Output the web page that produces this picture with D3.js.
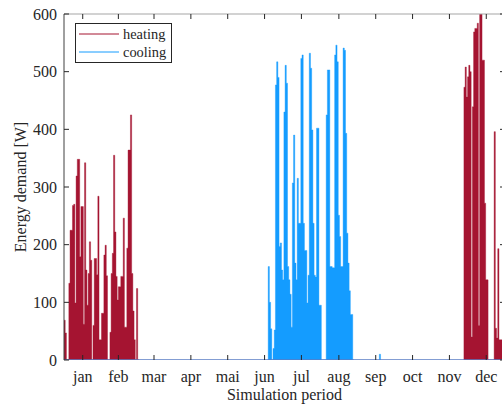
<!DOCTYPE html>
<html>
<head>
<meta charset="utf-8">
<script src="https://cdn.jsdelivr.net/npm/d3@7"></script>
<style>
  html, body { margin: 0; padding: 0; background: #fff; }
  svg { display: block; }
  text { font-family: "Liberation Serif", "Times New Roman", serif; fill: #262626; }
</style>
</head>
<body>
<svg id="chart" width="502" height="406"></svg>
<script>
// Daily peak energy demand [W], day 0 = 1 January
const heatingStartDay = 0;
const heatingWinter = [
  69, 47, 0, 0, 133, 225, 225, 268, 270, 99,
  319, 348, 348, 179, 266, 266, 62, 342, 156, 95,
  150, 205, 173, 0, 60, 176, 176, 148, 284, 35,
  35, 81, 81, 182, 199, 146, 0, 0, 48, 150,
  185, 355, 222, 145, 104, 127, 127, 145, 145, 246,
  57, 57, 194, 364, 364, 425, 150, 85, 35, 0,
  124, 0
];
const heatingLateStartDay = 331;
const heatingLate = [
  473, 508, 456, 491, 511, 500, 40, 439, 569, 575,
  575, 584, 60, 610, 610, 520, 520, 272, 139, 139,
  0, 0, 0, 0, 0, 396, 55, 38, 193, 35,
  35, 35, 35, 35
];
const coolingStartDay = 169;
const coolingSummer = [
  162, 100, 54, 0, 20, 52, 477, 517, 490, 197,
  203, 156, 139, 430, 511, 480, 162, 139, 114, 57,
  307, 390, 168, 139, 315, 237, 237, 523, 529, 237,
  190, 190, 99, 147, 532, 506, 399, 237, 147, 144,
  402, 402, 95, 95, 0, 0, 0, 0, 425, 503,
  503, 162, 162, 160, 160, 529, 546, 517, 251, 214,
  162, 162, 541, 537, 393, 220, 168, 120, 79, 79,
  0
];
const coolingBlipStartDay = 261;
const coolingBlip = [10];

const monthLabels = ["jan", "feb", "mar", "apr", "mai", "jun", "jul", "aug", "sep", "oct", "nov", "dec"];
const monthDays = [31, 28, 31, 30, 31, 30, 31, 31, 30, 31, 30, 31];
const yTicks = [0, 100, 200, 300, 400, 500, 600];

const heatingColor = "#a51431";
const coolingColor = "#149cff";

const svg = d3.select("#chart");
const plot = { left: 64, right: 505, top: 14, bottom: 360 };

const x = d3.scaleLinear().domain([0, 365]).range([plot.left, plot.right]);
const y = d3.scaleLinear().domain([0, 600]).range([plot.bottom, plot.top]);

// month tick positions sit at the middle of each month
let acc = 0;
const monthMid = monthDays.map(n => { const m = acc + n / 2; acc += n; return m; });

svg.append("defs").append("clipPath").attr("id", "plotClip")
  .append("rect")
  .attr("x", plot.left).attr("y", plot.top)
  .attr("width", plot.right - plot.left).attr("height", plot.bottom - plot.top);

const area = d3.area()
  .x(d => x(d.day))
  .y0(y(0))
  .y1(d => y(d.v))
  .curve(d3.curveStepAfter);

function toSeries(start, vals) {
  const pts = vals.map((v, i) => ({ day: start + i, v }));
  pts.push({ day: start + vals.length, v: vals[vals.length - 1] });
  return pts;
}

const g = svg.append("g").attr("clip-path", "url(#plotClip)");

[[heatingStartDay, heatingWinter], [heatingLateStartDay, heatingLate]].forEach(([s, v]) => {
  g.append("path").datum(toSeries(s, v))
    .attr("d", area).attr("fill", heatingColor)
    .attr("stroke", heatingColor).attr("stroke-width", 0.4);
});
[[coolingStartDay, coolingSummer], [coolingBlipStartDay, coolingBlip]].forEach(([s, v]) => {
  g.append("path").datum(toSeries(s, v))
    .attr("d", area).attr("fill", coolingColor)
    .attr("stroke", coolingColor).attr("stroke-width", 0.4);
});

// zero-demand trace along the bottom
g.append("line")
  .attr("x1", x(0)).attr("x2", x(365))
  .attr("y1", y(0)).attr("y2", y(0))
  .attr("stroke", "#5a7cc4").attr("stroke-width", 1.6);

// axes frame
svg.append("line").attr("x1", plot.left).attr("x2", plot.right)
  .attr("y1", plot.top).attr("y2", plot.top)
  .attr("stroke", "#a6a6a6").attr("stroke-width", 1.2);
svg.append("line").attr("x1", plot.left).attr("x2", plot.left)
  .attr("y1", plot.top).attr("y2", plot.bottom)
  .attr("stroke", "#404040").attr("stroke-width", 1);
svg.append("line").attr("x1", plot.right).attr("x2", plot.right)
  .attr("y1", plot.top).attr("y2", plot.bottom)
  .attr("stroke", "#404040").attr("stroke-width", 1);

const tickLen = 5;
// y ticks, left and right, pointing inward
yTicks.forEach(t => {
  svg.append("line").attr("x1", plot.left).attr("x2", plot.left + tickLen)
    .attr("y1", y(t)).attr("y2", y(t)).attr("stroke", "#262626");
  svg.append("line").attr("x1", plot.right - tickLen).attr("x2", plot.right)
    .attr("y1", y(t)).attr("y2", y(t)).attr("stroke", "#262626");
  svg.append("text").attr("x", plot.left - 7).attr("y", y(t))
    .attr("dy", "0.35em").attr("text-anchor", "end")
    .attr("font-size", 16).text(t);
});

// month ticks, bottom and top
monthMid.forEach((m, i) => {
  svg.append("line").attr("x1", x(m)).attr("x2", x(m))
    .attr("y1", plot.bottom).attr("y2", plot.bottom - tickLen).attr("stroke", "#262626");
  svg.append("line").attr("x1", x(m)).attr("x2", x(m))
    .attr("y1", plot.top).attr("y2", plot.top + tickLen).attr("stroke", "#262626");
  svg.append("text").attr("x", x(m)).attr("y", 382)
    .attr("text-anchor", "middle").attr("font-size", 16).text(monthLabels[i]);
});

svg.append("text").attr("x", (plot.left + plot.right) / 2).attr("y", 400)
  .attr("text-anchor", "middle").attr("font-size", 16).text("Simulation period");

svg.append("text")
  .attr("transform", `translate(26,${(plot.top + plot.bottom) / 2}) rotate(-90)`)
  .attr("text-anchor", "middle").attr("font-size", 16).text("Energy demand [W]");

// legend
const leg = svg.append("g");
leg.append("rect").attr("x", 75.5).attr("y", 23.5).attr("width", 96).attr("height", 39)
  .attr("fill", "#fff").attr("stroke", "#262626").attr("stroke-width", 1);
[["heating", heatingColor, 34], ["cooling", coolingColor, 52]].forEach(([name, c, ly]) => {
  leg.append("line").attr("x1", 79).attr("x2", 119).attr("y1", ly).attr("y2", ly)
    .attr("stroke", c).attr("stroke-width", 1);
  leg.append("text").attr("x", 123).attr("y", ly).attr("dy", "0.32em")
    .attr("font-size", 14.4).text(name);
});
</script>
</body>
</html>
